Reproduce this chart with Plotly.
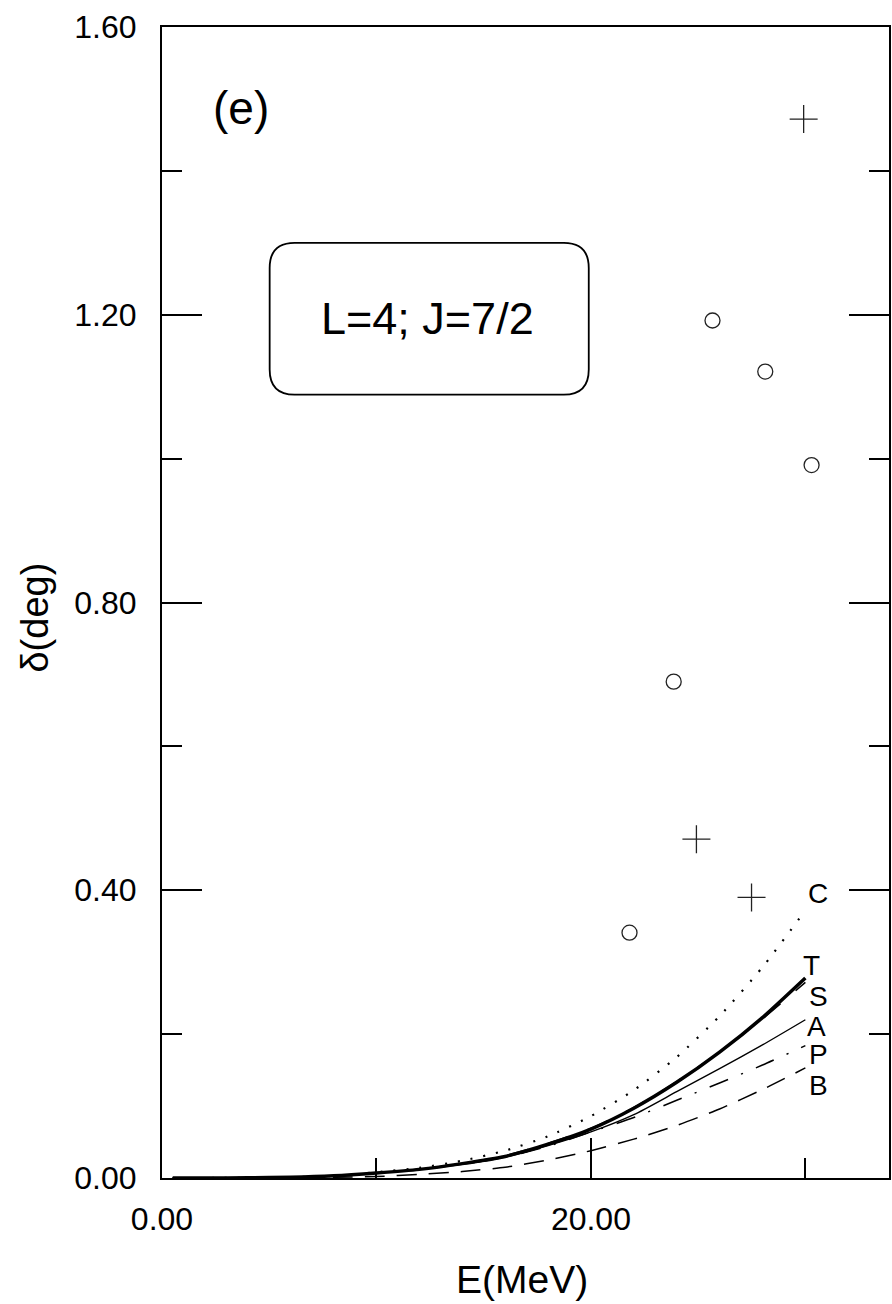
import plotly.graph_objects as go

# Energies (MeV) at which the phase-shift curves are tabulated
energy = [0.5, 2, 4, 6, 8, 10, 12, 14, 16, 18, 20, 22, 24, 26, 28, 30]

# Phase shifts (deg) for L=4, J=7/2
delta_C = [0, 0, 0.0003, 0.001, 0.003, 0.008, 0.014, 0.024, 0.038, 0.058, 0.086, 0.122, 0.168, 0.225, 0.293, 0.372]
delta_T = [0, 0, 0.0003, 0.001, 0.003, 0.007, 0.012, 0.020, 0.030, 0.047, 0.068, 0.097, 0.133, 0.175, 0.223, 0.278]
delta_S = [0, 0, 0.0003, 0.001, 0.003, 0.007, 0.012, 0.020, 0.031, 0.048, 0.069, 0.098, 0.134, 0.175, 0.221, 0.272]
delta_A = [0, 0, 0.0003, 0.001, 0.003, 0.007, 0.012, 0.019, 0.029, 0.045, 0.064, 0.088, 0.120, 0.152, 0.185, 0.220]
delta_P = [0, 0, 0.0003, 0.001, 0.003, 0.007, 0.012, 0.019, 0.029, 0.044, 0.064, 0.084, 0.108, 0.132, 0.157, 0.184]
delta_B = [0, 0, 0.0001, 0.0004, 0.001, 0.002, 0.005, 0.009, 0.015, 0.025, 0.038, 0.054, 0.073, 0.096, 0.123, 0.153]

# Experimental points
circle_E = [21.8, 23.86, 25.67, 28.13, 30.29]
circle_delta = [0.341, 0.690, 1.192, 1.121, 0.991]
cross_E = [24.92, 27.49, 29.92]
cross_delta = [0.471, 0.390, 1.472]

# Curve labels placed at the right end of each curve
label_text = ["C", "T", "S", "A", "P", "B"]
label_E = [30.6, 30.28, 30.6, 30.5, 30.6, 30.6]
label_delta = [0.396, 0.296, 0.252, 0.211, 0.171, 0.129]

FONT = "Liberation Sans, Arial, sans-serif"

fig = go.Figure()

curves = [
    (delta_B, dict(width=1.5, dash="20px,12px")),
    (delta_P, dict(width=1.5, dash="20px,14px,2px,14px")),
    (delta_A, dict(width=1.4, dash="solid")),
    (delta_S, dict(width=1.6, dash="22px,20px")),
    (delta_T, dict(width=3.5, dash="solid")),
    (delta_C, dict(width=2.2, dash="2px,11px")),
]
for ys, style in curves:
    fig.add_trace(go.Scatter(
        x=energy, y=ys, mode="lines",
        line=dict(color="black", shape="spline", smoothing=0.6, **style),
        showlegend=False, hoverinfo="skip",
    ))

fig.add_trace(go.Scatter(
    x=circle_E, y=circle_delta, mode="markers",
    marker=dict(symbol="circle-open", size=15, color="#222",
                line=dict(width=1.3, color="#222")),
    showlegend=False,
))
fig.add_trace(go.Scatter(
    x=cross_E, y=cross_delta, mode="markers",
    marker=dict(symbol="cross-thin-open", size=20, color="#222",
                line=dict(width=1.3, color="#222")),
    showlegend=False,
))

for t, ex, dy in zip(label_text, label_E, label_delta):
    fig.add_annotation(x=ex, y=dy, text=t, showarrow=False,
                       font=dict(family=FONT, size=28, color="black"),
                       xanchor="center", yanchor="middle")

# Rounded box holding the quantum numbers
bx0, bx1, by0, by1 = 5.02, 19.9, 1.089, 1.300
rx, ry = 1.16, 0.035
box_path = (
    f"M {bx0 + rx},{by0} L {bx1 - rx},{by0} Q {bx1},{by0} {bx1},{by0 + ry} "
    f"L {bx1},{by1 - ry} Q {bx1},{by1} {bx1 - rx},{by1} "
    f"L {bx0 + rx},{by1} Q {bx0},{by1} {bx0},{by1 - ry} "
    f"L {bx0},{by0 + ry} Q {bx0},{by0} {bx0 + rx},{by0} Z"
)
fig.add_shape(type="path", path=box_path, xref="x", yref="y",
              line=dict(color="black", width=1.8))
fig.add_annotation(x=12.4, y=1.195, text="L=4; J=7/2", showarrow=False,
                   font=dict(family=FONT, size=45, color="black"))

fig.add_annotation(x=3.67, y=1.488, text="(e)", showarrow=False,
                   font=dict(family=FONT, size=46, color="black"))

# Axis titles
fig.add_annotation(xref="paper", yref="paper", x=0.4955, y=-0.0886,
                   xanchor="center", yanchor="middle",
                   text="E(MeV)", showarrow=False,
                   font=dict(family=FONT, size=39, color="black"))
fig.add_annotation(xref="paper", yref="paper", x=-0.174, y=0.4865,
                   xanchor="center", yanchor="middle",
                   text="δ(deg)", textangle=-90, showarrow=False,
                   font=dict(family=FONT, size=38, color="black"))

fig.update_xaxes(
    range=[0, 33.9], tickvals=[0, 20], ticktext=["0.00", "20.00"],
    ticks="inside", ticklen=40, tickwidth=1.6, tickcolor="black",
    minor=dict(tickvals=[10, 30], ticks="inside", ticklen=20, tickwidth=1.6, tickcolor="black"),
    showline=True, linecolor="black", linewidth=2, mirror=True,
    showgrid=False, zeroline=False,
    tickfont=dict(family=FONT, size=32, color="black"),
    ticklabelstandoff=12,
)
fig.update_yaxes(
    range=[0, 1.6], tickvals=[0, 0.4, 0.8, 1.2, 1.6],
    ticktext=["0.00", "0.40", "0.80", "1.20", "1.60"],
    ticks="inside", ticklen=40, tickwidth=1.6, tickcolor="black",
    minor=dict(tickvals=[0.2, 0.6, 1.0, 1.4], ticks="inside", ticklen=20, tickwidth=1.6, tickcolor="black"),
    showline=True, linecolor="black", linewidth=2, mirror="ticks",
    showgrid=False, zeroline=False,
    tickfont=dict(family=FONT, size=32, color="black"),
    ticklabelstandoff=17,
)

fig.update_layout(
    width=892, height=1304,
    margin=dict(l=162, r=1, t=27, b=126),
    plot_bgcolor="white", paper_bgcolor="white",
    showlegend=False,
)

fig.write_html("out.html")
